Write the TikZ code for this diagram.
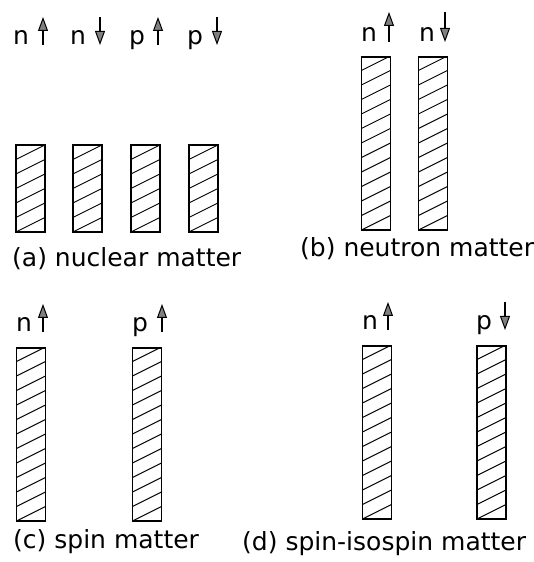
\documentclass[tikz,border=0pt]{standalone}
\usepackage{fontspec}
\setmainfont{DejaVu Sans}
\usetikzlibrary{arrows.meta,positioning}

\begin{document}
\begin{tikzpicture}[
    x=1pt, y=1pt,
    font=\fontsize{25}{28}\selectfont,
    bar/.style={draw, line width=1.1pt, inner sep=0pt, minimum width=29pt,
                path picture={
                  \foreach \k in {0,...,12}
                    \draw[line width=0.9pt]
                      ([yshift=\k*14.5pt]path picture bounding box.south west)
                      -- ([yshift=(\k+1)*14.5pt]path picture bounding box.south east);
                }},
    shortbar/.style={bar, minimum height=87pt},
    tallbar/.style={bar, minimum height=173pt},
    lbl/.style={anchor=base, inner sep=0pt},
    capt/.style={anchor=base west, inner sep=0pt},
    spin/.style={-{Triangle[length=14pt, width=10pt, line width=1pt, fill=black!50]},
                 line width=1.2pt}
  ]
    \useasboundingbox (0,0) rectangle (533,562);

    % (a) nuclear matter
    \node[shortbar] (a1) at (30.5,373.5) {};
    \node[shortbar] (a2) at (87.5,373.5) {};
    \node[shortbar] (a3) at (145.5,373.5) {};
    \node[shortbar] (a4) at (203.5,373.5) {};
    \node[lbl] (la1) at (21,517) {n};
    \node[lbl] (la2) at (78,517) {n};
    \node[lbl] (la3) at (137,517) {p};
    \node[lbl] (la4) at (195,517) {p};
    \draw[spin] ([xshift=22pt]la1.base) -- ++(0,28);
    \draw[spin] ([xshift=22pt, yshift=28pt]la2.base) -- ++(0,-28);
    \draw[spin] ([xshift=21pt]la3.base) -- ++(0,28);
    \draw[spin] ([xshift=22pt, yshift=28pt]la4.base) -- ++(0,-28);
    \node[capt] (ca) at (12,295) {(a)\ nuclear\ matter};

    % (b) neutron matter
    \node[tallbar] (b1) at (376,418.5) {};
    \node[tallbar] (b2) at (433,418.5) {};
    \node[lbl] (lb1) at (369,520) {n};
    \node[lbl] (lb2) at (427,520) {n};
    \draw[spin] ([xshift=20pt]lb1.base) -- ++(0,30);
    \draw[spin] ([xshift=18pt, yshift=30pt]lb2.base) -- ++(0,-30);
    \node[capt] (cb) at (300,305) {(b)\ neutron\ matter};

    % (c) spin matter
    \node[tallbar] (c1) at (31,127.5) {};
    \node[tallbar] (c2) at (147,127.5) {};
    \node[lbl] (lc1) at (24,230) {n};
    \node[lbl] (lc2) at (140,230) {p};
    \draw[spin] ([xshift=19pt]lc1.base) -- ++(0,28);
    \draw[spin] ([xshift=22pt]lc2.base) -- ++(0,28);
    \node[capt] (cc) at (13,13) {(c)\ spin\ matter};

    % (d) spin-isospin matter
    \node[tallbar] (d1) at (377,129.5) {};
    \node[tallbar] (d2) at (491.5,129.5) {};
    \node[lbl] (ld1) at (370,232) {n};
    \node[lbl] (ld2) at (484,232) {p};
    \draw[spin] ([xshift=18pt]ld1.base) -- ++(0,28);
    \draw[spin] ([xshift=21pt, yshift=28pt]ld2.base) -- ++(0,-28);
    \node[capt] (cd) at (242,12) {(d) spin-isospin\ matter};
  \end{tikzpicture}
\end{document}
